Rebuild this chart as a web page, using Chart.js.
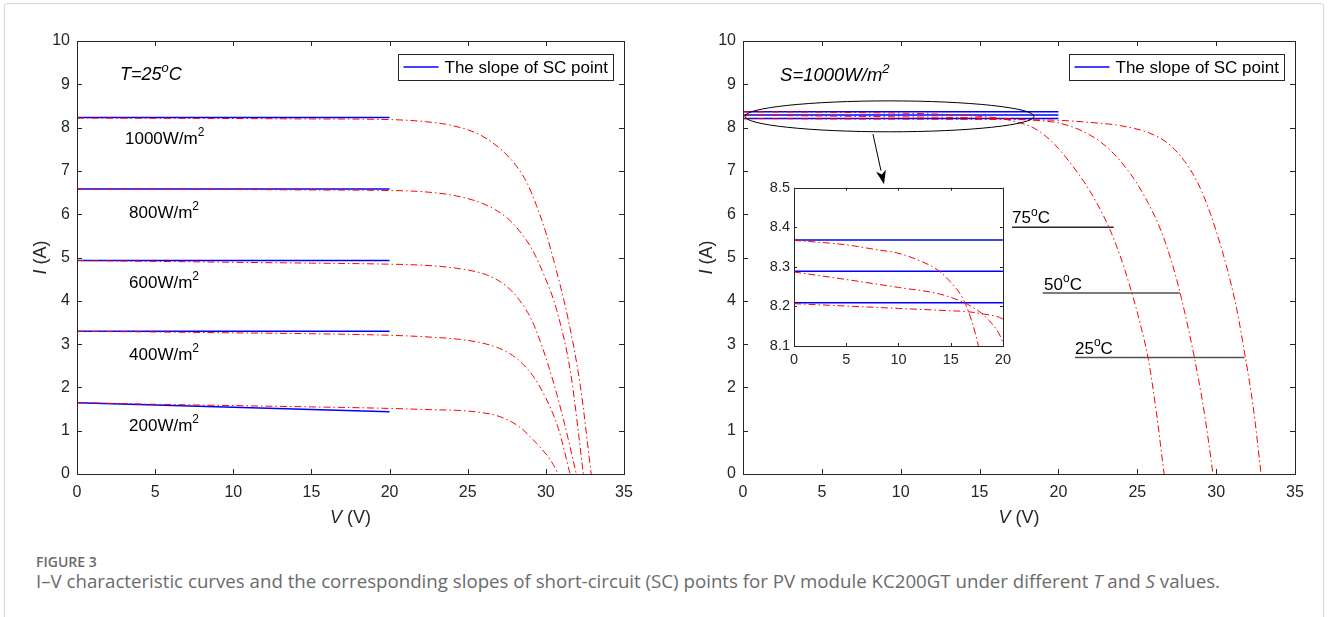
<!DOCTYPE html>
<html>
<head>
<meta charset="utf-8">
<script src="https://cdn.jsdelivr.net/npm/chart.js@4.4.1/dist/chart.umd.min.js"></script>
<style>
  html, body { margin: 0; padding: 0; background: #fff; width: 1328px; height: 617px; overflow: hidden; }
  .frame { position: absolute; left: 4px; top: 3px; width: 1318px; height: 700px; border: 1px solid #d6d6d6; border-radius: 3px; }
  canvas { position: absolute; }
  #cvL { left: 0; top: 0; }
  #cvR { left: 664px; top: 0; }
  #cvIn { left: 750px; top: 175px; }
  .fig { position: absolute; left: 36px; top: 552px; font: 600 14px "Open Sans", sans-serif; color: #6b6b6b; }
  .cap { position: absolute; left: 36px; top: 568px; font: 18.7px "Open Sans", sans-serif; color: #6b6b6b; white-space: nowrap; }
</style>
</head>
<body>
<div class="frame"></div>
<canvas id="cvL" width="664" height="540"></canvas>
<canvas id="cvR" width="664" height="540"></canvas>
<canvas id="cvIn" width="266" height="200"></canvas>
<div class="fig">FIGURE 3</div>
<div class="cap">I–V characteristic curves and the corresponding slopes of short-circuit (SC) points for PV module KC200GT under different <i>T</i> and <i>S</i> values.</div>

<script>
// ---- axis ticks ----
const vTicks = [0, 5, 10, 15, 20, 25, 30, 35];
const iTicks = [0, 1, 2, 3, 4, 5, 6, 7, 8, 9, 10];
const insetVTicks = [0, 5, 10, 15, 20];
const insetITicks = [8.1, 8.2, 8.3, 8.4, 8.5];

// ---- left: T = 25 oC, I-V curves per irradiance (V in volts, I in amps) ----
const vG1000 = [0, 5, 10, 15, 19.4, 22.2, 24.1, 25.8, 27.3, 28.1, 28.8, 29.4, 30.05, 30.6, 31.4, 32.2, 32.9];
const iG1000 = [8.22, 8.215, 8.21, 8.2, 8.19, 8.14, 8.04, 7.83, 7.44, 7.12, 6.72, 6.20, 5.52, 4.80, 3.62, 2.05, 0];
const vG800 = [0, 5, 10, 15, 19.4, 22.1, 24.3, 26.2, 27.5, 28.3, 29.1, 29.9, 30.7, 31.6, 32.4];
const iG800 = [6.58, 6.575, 6.57, 6.56, 6.55, 6.52, 6.42, 6.21, 5.92, 5.62, 5.20, 4.58, 3.78, 2.30, 0];
const vG600 = [0, 5, 10, 15, 19.4, 22.2, 24.3, 26.2, 27.4, 28.3, 29.1, 29.8, 30.5, 31.2, 31.95];
const iG600 = [4.93, 4.91, 4.89, 4.87, 4.85, 4.82, 4.75, 4.60, 4.36, 4.02, 3.55, 2.90, 2.10, 1.15, 0];
const vG400 = [0, 5, 10, 15, 19.4, 22.2, 24.7, 26.2, 27.5, 28.5, 29.3, 30.0, 30.8, 31.55];
const iG400 = [3.295, 3.28, 3.26, 3.24, 3.21, 3.17, 3.10, 3.00, 2.82, 2.55, 2.20, 1.75, 1.05, 0];
const vG200 = [0, 5, 10, 15, 19.4, 22.2, 25.4, 27.1, 28.3, 29.4, 30.3, 30.8];
const iG200 = [1.647, 1.61, 1.58, 1.55, 1.52, 1.49, 1.44, 1.32, 1.09, 0.71, 0.32, 0];

// slope of SC point lines (from V=0 to V=20)
const slopeV = [0, 20];
const slopeG1000 = [8.235, 8.235];
const slopeG800 = [6.58, 6.58];
const slopeG600 = [4.93, 4.93];
const slopeG400 = [3.295, 3.295];
const slopeG200 = [1.647, 1.44];

// ---- right: S = 1000 W/m2, I-V curves per temperature ----
const vT25 = [0, 5, 10, 15, 16.5, 18.1, 20, 22, 24, 25.8, 27.0, 28.0, 28.8, 29.5, 30.1, 30.7, 31.3, 31.8, 32.35, 32.85];
const iT25 = [8.207, 8.201, 8.195, 8.189, 8.187, 8.181, 8.168, 8.12, 8.04, 7.87, 7.62, 7.22, 6.75, 6.15, 5.50, 4.74, 3.82, 2.80, 1.55, 0];
const vT50 = [0, 5, 10, 14, 15.9, 17.1, 18.7, 20, 21.0, 21.9, 22.7, 23.5, 24.3, 25.0, 25.7, 26.3, 26.9, 27.4, 27.8, 28.3, 28.8, 29.3, 29.8];
const iT50 = [8.287, 8.268, 8.248, 8.231, 8.214, 8.198, 8.164, 8.108, 8.0, 7.85, 7.66, 7.40, 7.06, 6.70, 6.25, 5.80, 5.22, 4.62, 4.05, 3.25, 2.35, 1.30, 0];
const vT75 = [0, 4.9, 8.0, 9.9, 11.8, 13.7, 14.9, 16.2, 17.0, 17.65, 18.4, 19.2, 20.0, 20.8, 21.6, 22.4, 23.2, 23.9, 24.6, 25.2, 25.7, 26.2, 26.7];
const iT75 = [8.367, 8.356, 8.343, 8.335, 8.318, 8.293, 8.264, 8.218, 8.164, 8.10, 8.0, 7.80, 7.52, 7.16, 6.76, 6.28, 5.70, 5.05, 4.25, 3.45, 2.65, 1.45, 0];

const slopeT75 = [8.368, 8.368];
const slopeT50 = [8.289, 8.289];
const slopeT25 = [8.209, 8.209];

// temperature label leader lines
const tagV75 = [17.06, 23.5], tagI75 = 5.70;
const tagV50 = [19.0, 27.7], tagI50 = 4.18;
const tagV25 = [21.05, 31.8], tagI25 = 2.69;

const AXIS = '#262626';
const RED = '#ff0000';
const BLUE = '#0000ff';
const FONT = '"Liberation Sans", Arial, sans-serif';

const pts = (vs, is) => vs.map((v, k) => ({ x: v, y: Array.isArray(is) ? is[k] : is }));
const ivCurve = (vs, is) => ({
  data: pts(vs, is), borderColor: RED, borderWidth: 1,
  borderDash: [7, 3, 1.5, 3], cubicInterpolationMode: 'monotone'
});
const slopeLine = (is) => ({ data: pts(slopeV, is), borderColor: BLUE, borderWidth: 1.5 });
const tagLine = (vs, i, c) => ({ data: pts(vs, i), borderColor: c, borderWidth: 1.5 });

// draws text made of parts {t, it, sup}
function rich(ctx, x, y, parts, size, align) {
  const fontOf = p => `${p.it ? 'italic ' : ''}${p.sup ? Math.round(size * 0.72) : size}px ${FONT}`;
  let w = 0;
  parts.forEach(p => { ctx.font = fontOf(p); w += ctx.measureText(p.t).width; });
  let cx = align === 'center' ? x - w / 2 : x;
  ctx.textAlign = 'left';
  parts.forEach(p => {
    ctx.font = fontOf(p);
    ctx.fillText(p.t, cx, p.sup ? y - size * 0.45 : y);
    cx += ctx.measureText(p.t).width;
  });
}

// box around plot with inward tick marks on all four sides
const frameTicks = {
  id: 'frameTicks',
  afterDatasetsDraw(chart, args, opts) {
    const { ctx, chartArea: a, scales: { x, y } } = chart;
    const len = opts.len || 5;
    ctx.save();
    ctx.strokeStyle = AXIS;
    ctx.lineWidth = 1;
    ctx.setLineDash([]);
    ctx.strokeRect(Math.round(a.left) + 0.5, Math.round(a.top) + 0.5, Math.round(a.right - a.left), Math.round(a.bottom - a.top));
    ctx.beginPath();
    x.ticks.forEach(t => {
      const px = Math.round(x.getPixelForValue(t.value)) + 0.5;
      ctx.moveTo(px, a.bottom); ctx.lineTo(px, a.bottom - len);
      ctx.moveTo(px, a.top); ctx.lineTo(px, a.top + len);
    });
    y.ticks.forEach(t => {
      const py = Math.round(y.getPixelForValue(t.value)) + 0.5;
      ctx.moveTo(a.left, py); ctx.lineTo(a.left + len, py);
      ctx.moveTo(a.right, py); ctx.lineTo(a.right - len, py);
    });
    ctx.stroke();
    ctx.restore();
  }
};

function axisTitles(chart) {
  const { ctx, chartArea: a } = chart;
  ctx.save();
  ctx.fillStyle = AXIS;
  ctx.textBaseline = 'middle';
  rich(ctx, (a.left + a.right) / 2, a.bottom + 44, [{ t: 'V', it: true }, { t: ' (V)' }], 18, 'center');
  ctx.translate(a.left - 36, (a.top + a.bottom) / 2);
  ctx.rotate(-Math.PI / 2);
  rich(ctx, 0, 0, [{ t: 'I', it: true }, { t: ' (A)' }], 18, 'center');
  ctx.restore();
}

function legendBox(chart) {
  const { ctx, chartArea: a } = chart;
  const w = 215, h = 26;
  const x0 = Math.round(a.right - 11 - w) + 0.5, y0 = Math.round(a.top + 13) + 0.5;
  ctx.save();
  ctx.fillStyle = '#fff';
  ctx.fillRect(x0, y0, w, h);
  ctx.strokeStyle = AXIS;
  ctx.lineWidth = 1;
  ctx.setLineDash([]);
  ctx.strokeRect(x0, y0, w, h);
  ctx.strokeStyle = BLUE;
  ctx.lineWidth = 1.5;
  ctx.beginPath();
  ctx.moveTo(x0 + 5, y0 + 12.5);
  ctx.lineTo(x0 + 40, y0 + 12.5);
  ctx.stroke();
  ctx.fillStyle = '#000';
  ctx.textBaseline = 'middle';
  ctx.font = `17px ${FONT}`;
  ctx.fillText('The slope of SC point', x0 + 46, y0 + h / 2 + 1);
  ctx.restore();
}

function mainOptions(pad) {
  return {
    responsive: false, animation: false, events: [],
    layout: { padding: pad },
    elements: { point: { radius: 0 } },
    plugins: { legend: { display: false }, tooltip: { enabled: false }, frameTicks: { len: 5 } },
    scales: {
      x: {
        type: 'linear', min: 0, max: 35,
        grid: { display: false, drawTicks: false }, border: { display: false },
        afterBuildTicks: s => { s.ticks = vTicks.map(value => ({ value })); },
        afterFit: s => { s.height = 40; },
        ticks: { color: AXIS, padding: 9, maxRotation: 0, autoSkip: false, font: { family: FONT, size: 16 } }
      },
      y: {
        type: 'linear', min: 0, max: 10,
        grid: { display: false, drawTicks: false }, border: { display: false },
        afterBuildTicks: s => { s.ticks = iTicks.map(value => ({ value })); },
        afterFit: s => { s.width = 40; },
        ticks: { color: AXIS, padding: 7, autoSkip: false, font: { family: FONT, size: 16 } }
      }
    }
  };
}

// ---------- left chart ----------
const decoLeft = {
  id: 'decoLeft',
  afterDatasetsDraw(chart) {
    const { ctx, scales: { x, y } } = chart;
    ctx.save();
    ctx.fillStyle = '#000';
    ctx.textBaseline = 'alphabetic';
    rich(ctx, x.getPixelForValue(2.75), y.getPixelForValue(9.1),
      [{ t: 'T', it: true }, { t: '=25', it: true }, { t: 'o', it: true, sup: true }, { t: 'C', it: true }], 18);
    const irrLabels = [['1000', 3.07, 7.62], ['800', 3.33, 5.91], ['600', 3.33, 4.30], ['400', 3.33, 2.63], ['200', 3.33, 0.99]];
    irrLabels.forEach(([s, v, i]) => {
      rich(ctx, x.getPixelForValue(v), y.getPixelForValue(i), [{ t: s + 'W/m' }, { t: '2', sup: true }], 17);
    });
    ctx.restore();
    legendBox(chart);
    axisTitles(chart);
  }
};

new Chart(document.getElementById('cvL'), {
  type: 'line',
  data: {
    datasets: [
      ivCurve(vG1000, iG1000), ivCurve(vG800, iG800), ivCurve(vG600, iG600),
      ivCurve(vG400, iG400), ivCurve(vG200, iG200),
      slopeLine(slopeG1000), slopeLine(slopeG800), slopeLine(slopeG600),
      slopeLine(slopeG400), slopeLine(slopeG200)
    ]
  },
  options: mainOptions({ left: 37, right: 40, top: 41, bottom: 26 }),
  plugins: [frameTicks, decoLeft]
});

// ---------- right chart ----------
const decoRight = {
  id: 'decoRight',
  afterDatasetsDraw(chart) {
    const { ctx, scales: { x, y } } = chart;
    ctx.save();
    ctx.fillStyle = '#000';
    ctx.textBaseline = 'alphabetic';
    rich(ctx, x.getPixelForValue(2.35), y.getPixelForValue(9.08),
      [{ t: 'S=1000W/m', it: true }, { t: '2', it: true, sup: true }], 18.5);
    const tempLabels = [['75', 17.06, 5.79], ['50', 19.09, 4.26], ['25', 21.05, 2.78]];
    tempLabels.forEach(([s, v, i]) => {
      rich(ctx, x.getPixelForValue(v), y.getPixelForValue(i), [{ t: s }, { t: 'o', sup: true }, { t: 'C' }], 17);
    });

    // zoom ellipse
    const cx = x.getPixelForValue(9.29), cy = y.getPixelForValue(8.26);
    const rx = x.getPixelForValue(9.29 + 9.16) - cx, ry = cy - y.getPixelForValue(8.26 + 0.357);
    ctx.strokeStyle = '#000';
    ctx.lineWidth = 1;
    ctx.setLineDash([]);
    ctx.beginPath();
    ctx.ellipse(cx, cy, rx, ry, 0, 0, Math.PI * 2);
    ctx.stroke();

    // arrow to inset
    const ax0 = x.getPixelForValue(8.24), ay0 = y.getPixelForValue(7.85);
    const ax1 = x.getPixelForValue(8.94), ay1 = y.getPixelForValue(6.69);
    const ang = Math.atan2(ay1 - ay0, ax1 - ax0);
    const hl = 14, hw = 5;
    const bx = ax1 - hl * Math.cos(ang), by = ay1 - hl * Math.sin(ang);
    ctx.beginPath();
    ctx.moveTo(ax0, ay0);
    ctx.lineTo(bx, by);
    ctx.stroke();
    ctx.fillStyle = '#000';
    ctx.beginPath();
    ctx.moveTo(ax1, ay1);
    ctx.lineTo(bx + hw * Math.sin(ang), by - hw * Math.cos(ang));
    ctx.lineTo(bx + 4 * Math.cos(ang), by + 4 * Math.sin(ang));
    ctx.lineTo(bx - hw * Math.sin(ang), by + hw * Math.cos(ang));
    ctx.closePath();
    ctx.fill();
    ctx.restore();
    legendBox(chart);
    axisTitles(chart);
  }
};

new Chart(document.getElementById('cvR'), {
  type: 'line',
  data: {
    datasets: [
      ivCurve(vT75, iT75), ivCurve(vT50, iT50), ivCurve(vT25, iT25),
      slopeLine(slopeT75), slopeLine(slopeT50), slopeLine(slopeT25),
      tagLine(tagV75, tagI75, '#262626'), tagLine(tagV50, tagI50, '#505050'), tagLine(tagV25, tagI25, '#505050')
    ]
  },
  options: mainOptions({ left: 39, right: 33, top: 41, bottom: 26 }),
  plugins: [frameTicks, decoRight]
});

// ---------- inset (zoom on SC region) ----------
const insetBg = {
  id: 'insetBg',
  beforeDatasetsDraw(chart) {
    const { ctx, chartArea: a } = chart;
    ctx.save();
    ctx.fillStyle = '#fff';
    ctx.fillRect(a.left, a.top, a.right - a.left, a.bottom - a.top);
    ctx.restore();
  }
};

new Chart(document.getElementById('cvIn'), {
  type: 'line',
  data: {
    datasets: [
      ivCurve(vT75, iT75), ivCurve(vT50, iT50), ivCurve(vT25, iT25),
      slopeLine(slopeT75), slopeLine(slopeT50), slopeLine(slopeT25)
    ]
  },
  options: {
    responsive: false, animation: false, events: [],
    layout: { padding: { left: 8, right: 9, top: 11, bottom: 5 } },
    elements: { point: { radius: 0 } },
    plugins: { legend: { display: false }, tooltip: { enabled: false }, frameTicks: { len: 3 } },
    scales: {
      x: {
        type: 'linear', min: 0, max: 20,
        grid: { display: false, drawTicks: false }, border: { display: false },
        afterBuildTicks: s => { s.ticks = insetVTicks.map(value => ({ value })); },
        afterFit: s => { s.height = 24; },
        ticks: { color: AXIS, padding: 5, maxRotation: 0, autoSkip: false, font: { family: FONT, size: 14.5 } }
      },
      y: {
        type: 'linear', min: 8.1, max: 8.5,
        grid: { display: false, drawTicks: false }, border: { display: false },
        afterBuildTicks: s => { s.ticks = insetITicks.map(value => ({ value })); },
        afterFit: s => { s.width = 36; },
        ticks: { color: AXIS, padding: 4, autoSkip: false, font: { family: FONT, size: 14.5 }, callback: v => v.toFixed(1) }
      }
    }
  },
  plugins: [insetBg, frameTicks]
});
</script>
</body>
</html>
